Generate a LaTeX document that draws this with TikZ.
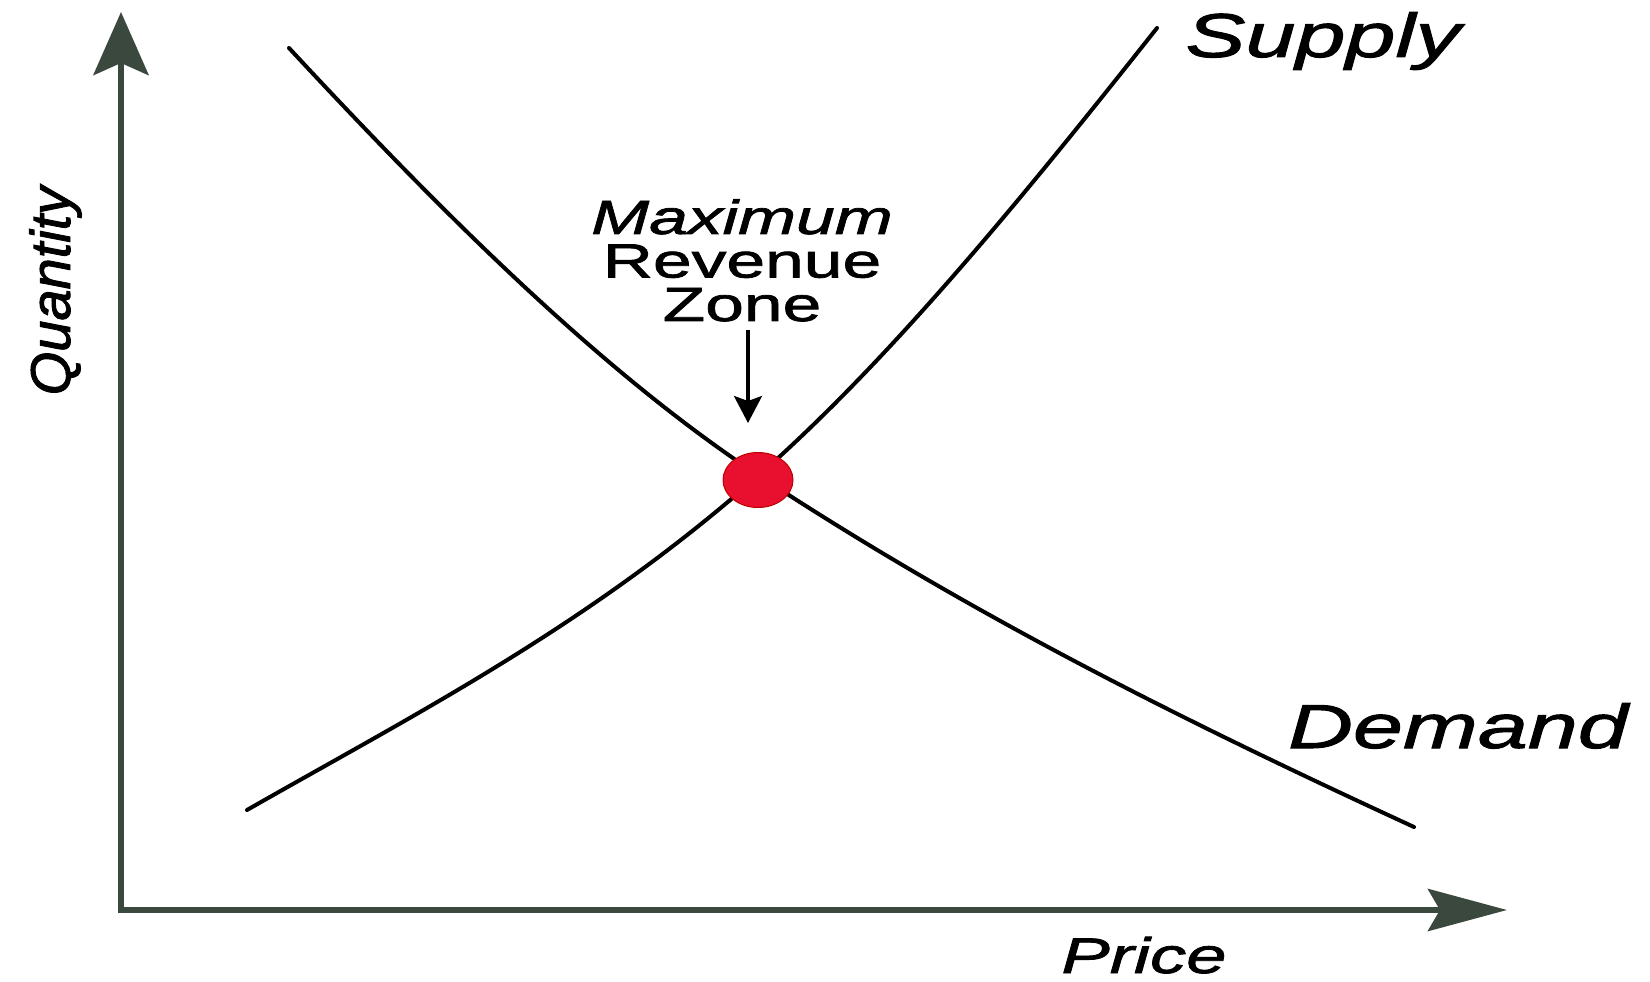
\documentclass[tikz,border=0pt]{standalone}
\usepackage{fontspec}
\setmainfont{Liberation Sans}[FakeBold=1.2]
\newfontfamily\chartfont[FakeStretch=1.45,FakeBold=1.6]{Liberation Sans}
\newfontfamily\sidefont[FakeBold=1.6]{Liberation Sans}
\usepackage{tikz}
\usetikzlibrary{arrows.meta,positioning,shapes.geometric}
\definecolor{axisgreen}{RGB}{58,72,62}
\definecolor{zonered}{RGB}{232,16,46}
\tikzset{
  chart-axis/.style={draw=axisgreen, line width=6.5pt},
  chart-curve/.style={draw=black, line width=4pt, line cap=round},
  chart-label/.style={inner sep=0pt, font=\chartfont\itshape\fontsize{62}{62}\selectfont, anchor=base},
  chart-dot/.style={ellipse, draw=red!75!black, line width=1pt, fill=zonered,
    minimum width=70pt, minimum height=55pt, inner sep=0pt},
  chart-pointer/.style={draw=black, line width=3.2pt, -{Stealth[length=27pt,width=28pt,inset=5pt]}}
}

\begin{document}
\begin{tikzpicture}[x=1pt, y=-1pt]
  \useasboundingbox (0,0) rectangle (1650,982);
  \coordinate (origin) at (121,910);
  \coordinate (ytip) at (121,12);
  \coordinate (xtip) at (1507,910);
  \draw[chart-axis, -{Stealth[length=63pt,width=55pt,inset=12pt]}] (origin) -- (ytip);
  \draw[chart-axis, shorten <=-3.25pt, -{Stealth[length=79pt,width=42pt,inset=12pt]}] (origin) -- (xtip);
  \draw[chart-curve] (289,48) .. controls (445,216) and (602,372) .. (758,475)
    .. controls (977,619) and (1195,726) .. (1414,827);
  \draw[chart-curve] (247,810) .. controls (417,713) and (588,626) .. (758,476)
    .. controls (891,359) and (1024,196) .. (1157,28);
  \node[chart-dot] (hot) at (758,480) {};
  \node[chart-label] (supply) at (1323,57) {Supply};
  \node[chart-label] (demand) at (1458,748) {Demand};
  \node[chart-label, font=\chartfont\itshape\fontsize{50}{50}\selectfont] (price) at (1144,973) {Price};
  \node[chart-label, font=\sidefont\itshape\fontsize{56}{56}\selectfont, rotate=90] (quantity) at (70,291) {Quantity};
  \node[inner sep=0pt, anchor=north, align=center, font=\chartfont\fontsize{48}{43.5}\selectfont] (zone) at (742,199)
    {\itshape Maximum\\Revenue\\Zone};
  \coordinate (tip) at (748,423);
  \draw[chart-pointer, shorten <=8pt] (zone.south -| tip) -- (tip);
\end{tikzpicture}
\end{document}
